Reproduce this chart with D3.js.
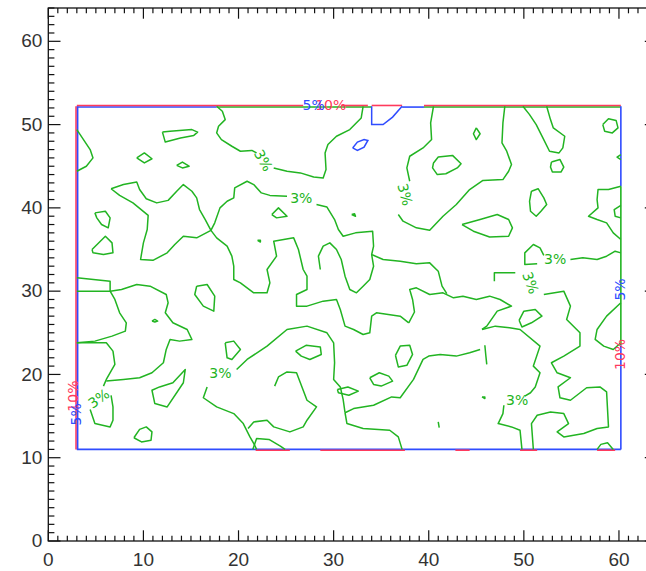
<!DOCTYPE html>
<html lang="en">
<head>
<meta charset="UTF-8">
<title>Contour map</title>
<script src="https://d3js.org/d3.v7.min.js"></script>
<style>
  body { margin: 0; background: #fff; }
  svg { display: block; }
  .tick-label { font-family: "Liberation Sans", Arial, sans-serif; font-size: 19px; fill: #333; }
  .clabel { font-family: "DejaVu Sans", sans-serif; font-size: 14px; }
</style>
</head>
<body>
<div id="chart"></div>
<script>
const width = 646, height = 571;

// axis ranges and ticks
const xDomain = [0, 64];
const yDomain = [0, 64];
const majorTicks = [0, 10, 20, 30, 40, 50, 60];
const tickLabels = ["0", "10", "20", "30", "40", "50", "60"];

// data region bounds
const boxX = [3, 60.2];
const boxY = [11, 52.2];

// 3% contour lines (green)
const greenLines = [
  [[3,49.4],[3.7,48.2],[4.4,47],[4.7,46],[4,45],[3,44.4]],
  [[12,49.1],[12.3,47.9],[13.9,48.4],[15.3,48.7],[15.7,49.1],[15.1,49.4],[12.8,49.2],[12,49.1]],
  [[9.3,46],[10.1,46.6],[10.9,45.9],[10.1,45.4],[9.3,46]],
  [[13.5,45.1],[14.1,45.5],[14.8,45],[14.1,44.8],[13.5,45.1]],
  [[17.7,52.2],[18.3,51.6],[18.6,50.6],[17.9,49.8],[17.7,49],[18.2,48.2],[19.3,47.4],[20.2,46.8],[21.4,46.9],[21.9,46.6]],
  [[23.7,44.8],[25.1,44.4],[26.5,44.2],[27.9,43.7],[28.9,43.6],[29.2,44.6],[29.1,46.6],[29.4,47.6],[30.3,48.6],[31.7,49.4],[32.9,50.8],[33.1,52.2]],
  [[6.6,42.3],[7.9,42.8],[9.3,43.1],[9.6,42.2],[10.3,41.1],[11.4,40.6],[12.6,40.9],[13.5,42],[14.2,42.8],[15.1,42],[15.6,41.2],[15.9,39.8],[16.5,38.6],[17.1,37.3],[15.6,36.4],[14.2,36.6],[13.3,35.6],[12.5,34.6],[11,33.7],[9.7,33.8],[10,35.8],[10.4,37.4],[10.5,39.1],[8.9,40.6],[7.5,41.5],[6.6,42.3]],
  [[17.1,37.3],[17.5,38.2],[18.05,40],[18.8,40.8],[19.5,41.2],[19.6,42.4],[20.9,43.2],[21.6,42.8],[22.4,41.8],[23.3,41.5],[25.1,41.4]],
  [[28.2,40.4],[29.3,40.1],[30.1,38.6],[30.5,37.4],[31,36.6],[32.3,37],[34.1,37.2],[34.2,35.4],[34,34.4],[35.2,33.8],[37,33.6],[38.7,33.3],[40.1,33.4],[41,32.4],[41.4,30.6],[41.9,29.7]],
  [[23.5,39.2],[24.2,40],[25.1,39],[24,38.8],[23.5,39.2]],
  [[22,36.1],[22.3,36.1],[22.3,35.9],[22,36.1]],
  [[40.5,52.2],[40.2,50.2],[40.3,48.2],[39.4,47.2],[38,46.2],[37.7,44.8],[38,43.2]],
  [[36.8,39.2],[37.3,38.4],[38.7,37.6],[40.1,37.3],[41.5,39],[42.9,40.4],[44.3,42.2],[45.7,43.3],[47.8,43.4],[48.4,44.4],[48.7,45.2],[48.2,46.8],[47.7,47.8],[47.8,50.2],[48,52.2]],
  [[40.5,45.4],[41,46.1],[42.5,46.3],[43.4,45.3],[43,44.8],[41.8,44.1],[40.9,44],[40.4,44.8],[40.5,45.4]],
  [[45,49.6],[45.4,48.9],[45,48.2],[44.7,48.9],[45,49.6]],
  [[49.9,52.2],[50.6,51.2],[51.3,50],[52,48.4],[52.7,46.8],[53.7,46.6],[54.1,47.2],[54.3,48.6],[53.1,49.6],[52.8,50.6],[52.4,52.2]],
  [[52.9,45.5],[53.8,45.8],[54.2,44.9],[53.9,44.3],[53,44.3],[52.8,44.9],[52.9,45.5]],
  [[58.3,50],[58.9,50.7],[59.7,50.5],[59.9,49.6],[59.3,49],[58.5,49.2],[58.3,50]],
  [[60.2,46.4],[59.8,46.1],[60.2,45.8]],
  [[60.2,42.6],[58.9,42.2],[57.8,42.2],[57.7,41],[57.8,40],[56.8,39],[57.7,38.6],[58.7,38.2],[59.4,37],[60.2,36.2]],
  [[60.2,40.3],[59.5,39.8],[59.6,39],[60.2,38.8]],
  [[50.8,42],[51.5,42.3],[52.1,41.2],[52.4,40.4],[51.8,39.6],[51.3,39],[50.7,39.6],[50.6,40.8],[50.8,42]],
  [[43.5,38],[45.4,38.6],[47.2,39.2],[48.4,38.6],[48.8,37.6],[48.4,36.6],[46.4,36.5],[44.7,37.2],[43.5,38]],
  [[31.9,39.2],[32.2,39.3],[32.3,39],[31.9,39.2]],
  [[51.4,33.3],[50.1,33.2],[50.1,34.6],[51,35.6],[51.7,35.2],[52.1,34.3]],
  [[54.9,33.8],[56.2,34],[57.7,33.8],[58.7,34.2],[59.6,34.8],[60.2,34.6]],
  [[46.9,31.2],[46.9,32.2],[49.1,32.2]],
  [[52.1,29.6],[54.2,30],[54.9,28.2],[54.5,26.6],[55.9,25],[55.9,23.4],[54.2,22.2],[52.9,21.4],[53.5,20.2],[54.9,19.6],[53.6,18.5],[53.8,17.2],[54.9,16.9],[56.6,18.4],[58,18.5],[58.7,17.9],[58.9,13.7],[57.7,13.5],[56.3,12.9],[54.2,12.5],[53.5,13.1],[54.7,14.1],[54.2,15.3],[52.8,15.5],[51.4,15.1],[50.8,14.1],[51,11]],
  [[60.2,28.6],[58.7,27],[57.7,25.4],[57.5,24.2],[58.4,23.4],[59.4,23],[60.2,23.8]],
  [[57.7,11],[58.1,11.6],[58.8,11.8],[59.4,11]],
  [[36.5,22.3],[37,23.4],[38,23.5],[38.3,22.4],[37.7,21.1],[36.8,20.9],[36.5,22.3]],
  [[33.8,19.6],[34.8,20.2],[35.8,19.8],[36.2,19.2],[35,18.6],[34.2,18.8],[33.8,19.6]],
  [[30.4,18.2],[31.5,18.5],[32.6,18],[31.6,17.5],[30.5,17.8],[30.4,18.2]],
  [[49.5,26.5],[50,27.6],[51.2,27.8],[51.9,27],[50.8,26.2],[49.8,25.7],[49.5,26.5]],
  [[45.6,25.4],[47,25.8],[48.5,25.6],[49.6,25.4],[51.7,23.4],[51,21],[51.7,20.2],[51.2,18.5],[50.7,17.8],[50.1,17.4]],
  [[47.9,16.3],[47.8,15.3],[47.3,14.1],[48.7,13.7],[49.6,13.3],[49.8,11]],
  [[37.9,26.2],[38.5,27.5],[38.3,29],[38,30.2],[38.7,30.4],[40.1,29.6],[41.5,29.8],[42.6,29.2],[43.6,29.4],[45,29],[46.4,29.4],[47.5,29],[48.7,28.2],[47.2,27.6],[46.1,25.8],[45.6,25.4]],
  [[31.2,15.4],[32.1,15.9],[34.2,16.3],[36.1,17.3],[37,17.2],[38.4,19.4],[39.4,21.8],[40,22.2],[41.2,22.4],[42.9,22.2],[44.3,22.6],[45.4,23]],
  [[45.9,23.5],[46,22.3],[46.1,21.2]],
  [[31.2,15.4],[31.4,14.1],[33.1,13.5],[35.9,13.3],[36.8,12.5],[37.2,11]],
  [[45.6,17.3],[45.9,17.3],[45.9,17.1],[45.6,17.3]],
  [[41,14.3],[41.1,13.6]],
  [[19.8,20.6],[20.9,21.8],[23,23.4],[25.1,25.4],[27.2,25.8],[29.3,25],[30,23.8],[30.1,21.4],[30,19.4],[30.7,18.5],[31,17],[31.2,15.4]],
  [[16.7,18.5],[16.3,17.2],[17.7,16.1],[19.5,15.3],[20.5,14.1],[21.2,12.5],[21.7,11.5],[21.9,11]],
  [[23.8,18.6],[24.2,19.7],[25.1,20.3],[26.1,20.2],[26.8,18.1],[27.2,16.9],[28.2,16.1],[27.2,14.5],[26.8,13.7],[25.4,13.1],[23.7,13.7],[23,14.5],[21.6,14.3],[21,13.5]],
  [[21.5,11],[21.9,12.3],[23.2,12.2],[24.4,11.4],[24.9,11]],
  [[9,12.4],[9.6,13.4],[10.3,13.7],[10.9,13.1],[10.8,12.1],[9.8,11.9],[9,12.4]],
  [[6.5,30],[7.7,30.2],[9.3,30.8],[10.7,30.6],[12.4,29.6],[12.6,28.6],[12.3,27.4],[13.1,26.2],[14.6,25.4],[15.1,24.2],[13.8,24],[12.8,24.2],[12.4,23],[12.1,21.4],[10.9,20.2],[9.6,19.6],[7.9,19.4],[6.1,19.2]],
  [[3,31.6],[6.5,31.2],[6.5,30],[3,30]],
  [[6.5,30],[7,29],[7.5,27.4],[8.2,26.2],[8.1,25.2],[6.7,24.6],[4.9,24],[3,23.8]],
  [[3,23.8],[6.1,23.8],[6.8,22.8],[7,21.2],[6.1,19.4],[5.8,18.6]],
  [[4.4,15.8],[4.9,14.1],[6.5,13.7],[6.8,14.5],[6.8,16.1],[6.6,17.5]],
  [[4.9,39.4],[6,39.6],[6.5,38.8],[6.3,37.6],[5.6,38],[5.1,38.8],[4.9,39.4]],
  [[4.6,35],[6,36.6],[6.7,35.8],[6.8,34.6],[5.8,34.4],[4.7,34.6],[4.6,35]],
  [[15.6,30.6],[16.7,30.8],[17.5,29.4],[17.4,27.6],[16.3,28.2],[15.4,29.6],[15.6,30.6]],
  [[10.9,26.4],[11.2,26.6],[11.5,26.4],[11.2,26.3],[10.9,26.4]],
  [[11.7,18.5],[13.1,19],[14.4,20.6],[14.2,19],[12.5,16.1],[11.2,16.5],[10.9,18.1],[11.7,18.5]],
  [[18.6,23.8],[19.5,24],[20.2,23],[19.3,21.8],[18.8,22],[18.6,23.8]],
  [[26,22.8],[27.1,23.5],[28.6,23.3],[28.7,22.4],[27.5,21.8],[26.6,22.2],[26,22.8]],
  [[28.6,32.6],[28.4,34.2],[28.9,35.4],[29.6,35.8],[30.3,35],[30.8,33.8],[31.2,31.8],[31.7,30.2],[32.4,29.8],[33.1,30.6],[33.8,31.4],[34.2,33],[34,34.4]],
  [[17.1,37.3],[17.7,36.4],[18.8,35.4],[19.3,34.2],[19.5,33],[19.5,31.4],[20.2,31],[21.6,29.8],[23,29.8],[23.3,31],[23,32.6],[24,34.2],[23.7,36],[25.8,36.4],[26.3,35],[26.8,32.6],[27.2,31.8],[27.2,30.2],[26.1,29.6],[26.1,28.2],[27.2,28.2],[28.9,28.8],[30.3,29],[30.7,27.8],[31.2,25.8],[32.1,25.4],[33.1,24.8],[33.8,25],[34,27],[34.5,27.4],[37,27],[37.9,26.2]]
];

// 5% contour lines (blue)
const blueLines = [
  [[34,52.2],[34,50],[35.2,50],[36.2,50.9],[37.2,52.2]],
  [[32,47.2],[32.5,47.9],[33.2,48.2],[33.6,48.1],[33.2,47.3],[32.5,46.9],[32,47.2]]
];

// contour lines running along the data-region edges: [from, to] along each side
const redLeft = [[11, 52.2]];
const blueLeft = [[11, 52.2]];
const redTop = [[3, 26.8], [30.8, 33.6], [34, 37.2], [39.5, 60.2]];
const blueTop = [[3, 17.7], [37.2, 39.5]];
const greenTop = [[17.7, 34], [39.5, 60.2]];
const blueRight = [[42.6, 52.2], [11, 23.5]];
const greenRight = [[23.5, 42.6]];
const blueBottom = [[3, 60.2]];
const redBottom = [[21.8, 25.4], [28.6, 37.5], [42.8, 44.3], [49.6, 51.4], [57.7, 59.6]];

// contour labels
const labelText  = ["3%", "3%", "3%", "3%", "3%", "3%", "3%", "3%", "10%", "5%", "10%", "5%", "5%", "10%"];
const labelColor = ["g", "g", "g", "g", "g", "g", "g", "g", "r", "b", "r", "b", "b", "r"];
const labelX     = [22.6, 26.6, 37.5, 53.3, 50.7, 18.1, 5.3, 49.3, 29.7, 27.9, 2.6, 2.9, 60.1, 60.1];
const labelY     = [45.7, 41.2, 41.6, 33.9, 31.0, 20.2, 17.1, 16.9, 52.4, 52.4, 17.4, 15.2, 30.2, 22.4];
const labelAngle = [60, 0, 75, 0, 70, 0, -35, 0, 0, 0, -90, -90, -90, -90];

const colors = { g: "#22b422", b: "#2f4cff", r: "#ff3a5c" };

const svg = d3.select("#chart").append("svg")
  .attr("width", width)
  .attr("height", height);

svg.append("rect").attr("width", width).attr("height", height).attr("fill", "#fff");

const x = d3.scaleLinear().domain(xDomain).range([48.3, 657]);
const y = d3.scaleLinear().domain(yDomain).range([541, 8]);

const line = d3.line().x(d => x(d[0])).y(d => y(d[1]));

// edge lines (drawn first, contours on top)
function edgeX(segs, yv, off, color) {
  svg.append("g").selectAll("line").data(segs).enter().append("line")
    .attr("x1", d => x(d[0])).attr("x2", d => x(d[1]))
    .attr("y1", y(yv) + off).attr("y2", y(yv) + off)
    .attr("stroke", color).attr("stroke-width", 1.6);
}
function edgeY(segs, xv, off, color) {
  svg.append("g").selectAll("line").data(segs).enter().append("line")
    .attr("y1", d => y(d[0])).attr("y2", d => y(d[1]))
    .attr("x1", x(xv) + off).attr("x2", x(xv) + off)
    .attr("stroke", color).attr("stroke-width", 1.6);
}

edgeY(redLeft, boxX[0], -0.8, colors.r);
edgeY(blueLeft, boxX[0], 0.8, colors.b);
edgeX(greenTop, boxY[1], 0.8, colors.g);
edgeX(blueTop, boxY[1], 0.8, colors.b);
edgeX(redTop, boxY[1], -0.8, colors.r);
edgeY(greenRight, boxX[1], 0, colors.g);
edgeY(blueRight, boxX[1], 0, colors.b);
edgeX(blueBottom, boxY[0], 0, colors.b);
edgeX(redBottom, boxY[0], 0.8, colors.r);

svg.append("g").selectAll("path").data(greenLines).enter().append("path")
  .attr("d", line)
  .attr("fill", "none")
  .attr("stroke", colors.g)
  .attr("stroke-width", 1.5)
  .attr("stroke-linejoin", "round");

svg.append("g").selectAll("path").data(blueLines).enter().append("path")
  .attr("d", line)
  .attr("fill", "none")
  .attr("stroke", colors.b)
  .attr("stroke-width", 1.5);

svg.append("g").selectAll("text").data(labelText).enter().append("text")
  .attr("class", "clabel")
  .attr("transform", (d, i) => `translate(${x(labelX[i])},${y(labelY[i])}) rotate(${labelAngle[i]})`)
  .attr("text-anchor", "middle")
  .attr("dy", "0.35em")
  .attr("fill", (d, i) => colors[labelColor[i]])
  .text(d => d);

// frame and ticks
const x0 = x(xDomain[0]), x1 = x(xDomain[1]), y0 = y(yDomain[0]), y1 = y(yDomain[1]);
svg.append("rect")
  .attr("x", x0).attr("y", y1)
  .attr("width", x1 - x0).attr("height", y0 - y1)
  .attr("fill", "none").attr("stroke", "#111").attr("stroke-width", 1.3);

const minor = d3.range(0, 65, 1);
const ticks = svg.append("g").attr("stroke", "#111").attr("stroke-width", 1.2);
minor.forEach(v => {
  const isMajor = v % 10 === 0;
  const lx = isMajor ? 10.7 : 5.3;
  const ly = isMajor ? 12.2 : 6.1;
  ticks.append("line").attr("x1", x(v)).attr("x2", x(v)).attr("y1", y0).attr("y2", y0 - lx);
  ticks.append("line").attr("x1", x(v)).attr("x2", x(v)).attr("y1", y1).attr("y2", y1 + lx);
  ticks.append("line").attr("y1", y(v)).attr("y2", y(v)).attr("x1", x0).attr("x2", x0 + ly);
  ticks.append("line").attr("y1", y(v)).attr("y2", y(v)).attr("x1", x1).attr("x2", x1 - ly);
});

svg.append("g").selectAll("text").data(majorTicks).enter().append("text")
  .attr("class", "tick-label")
  .attr("x", d => x(d))
  .attr("y", y0 + 25)
  .attr("text-anchor", "middle")
  .text((d, i) => tickLabels[i]);

svg.append("g").selectAll("text").data(majorTicks).enter().append("text")
  .attr("class", "tick-label")
  .attr("x", x0 - 6)
  .attr("y", d => y(d))
  .attr("dy", "0.32em")
  .attr("text-anchor", "end")
  .text((d, i) => tickLabels[i]);
</script>
</body>
</html>
